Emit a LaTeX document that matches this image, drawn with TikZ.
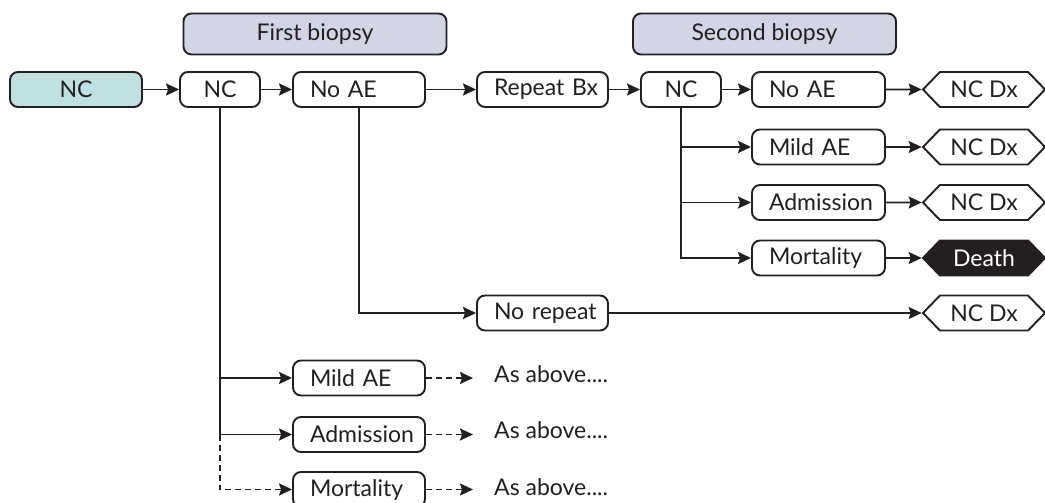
\documentclass[tikz,border=0pt]{standalone}
\usepackage{fontspec}
\setmainfont{Lato}
\usetikzlibrary{arrows.meta,shapes.symbols}
\definecolor{inkc}{HTML}{231F20}
\definecolor{tealfill}{HTML}{C1E0E1}
\definecolor{headfill}{HTML}{D3D4E4}
\begin{document}
\begin{tikzpicture}[x=1pt,y=-1pt,
  every node/.style={font=\fontsize{23}{26}\selectfont, text=inkc},
  box/.style={draw=inkc, line width=1.9pt, rounded corners=8pt, minimum height=35pt, inner sep=0pt},
  lbox/.style={box, text width=#1-34pt, minimum width=#1, align=left},
  cbox/.style={box, minimum width=#1, align=center},
  head/.style={box, fill=headfill, minimum height=41pt, minimum width=263pt},
  hexa/.style={draw=inkc, line width=1.9pt, shape=signal, signal to=west and east,
    signal pointer angle=92, minimum width=122pt, minimum height=35pt, inner sep=0pt},
  link/.style={draw=inkc, line width=1.9pt, -{Stealth[length=13pt,width=12pt,inset=2pt]}},
  dlink/.style={link, dash pattern=on 6pt off 4pt},
  note/.style={anchor=west, inner sep=0pt}]
\useasboundingbox (0,0) rectangle (1045,503);

% headers
\node[head] (h1) at (315,34) {First biopsy};
\node[head] (h2) at (764.5,34) {Second biopsy};

% first biopsy row
\node[cbox=132pt, fill=tealfill] (start) at (76,89.5) {NC};
\node[cbox=80pt] (nc1) at (220,89.5) {NC};
\node[lbox=132pt] (noae1) at (359,89.5) {No AE};
\node[lbox=131pt] (rep) at (542.5,89.5) {\mbox{Repeat Bx}};
\node[cbox=80pt] (nc2) at (681,89.5) {NC};

% second biopsy outcomes
\node[lbox=133pt] (noae2) at (818.5,89.5) {No AE};
\node[lbox=133pt] (mild2) at (818.5,147) {Mild AE};
\node[lbox=133pt] (adm2) at (818.5,202.5) {Admission};
\node[lbox=133pt] (mort2) at (818.5,258) {Mortality};
\node[hexa] (dx1) at (984,89.5) {NC Dx};
\node[hexa] (dx2) at (984,147) {NC Dx};
\node[hexa] (dx3) at (984,202.5) {NC Dx};
\node[hexa, fill=inkc, text=white] (death) at (984,258) {Death};

% no repeat biopsy
\node[lbox=131pt] (norep) at (542.5,313) {\mbox{No repeat}};
\node[hexa] (dx4) at (984,313) {NC Dx};

% first biopsy complications
\node[lbox=132pt] (mild1) at (359,378) {Mild AE};
\node[lbox=132pt] (adm1) at (359,434.5) {Admission};
\node[lbox=132pt] (mort1) at (359,489.5) {Mortality};
\node[note] (as1) at (494,374) {As above....};
\node[note] (as2) at (494,430) {As above....};
\node[note] (as3) at (494,487) {As above....};

% main row
\draw[link] (start) -- (nc1);
\draw[link] (nc1) -- (noae1);
\draw[link] (noae1) -- (rep);
\draw[link] (rep) -- (nc2);
\draw[link] (nc2) -- (noae2);
\draw[link] (noae2) -- (dx1);
\draw[link] (mild2) -- (dx2);
\draw[link] (adm2) -- (dx3);
\draw[link] (mort2) -- (death);
\draw[link] (norep) -- (dx4);

% branches
\draw[link] (nc2.south) |- (mild2.west);
\draw[link] (nc2.south) |- (adm2.west);
\draw[link] (nc2.south) |- (mort2.west);
\draw[link] (noae1.south) |- (norep.west);
\draw[link] (nc1.south) |- (mild1.west);
\draw[link] (nc1.south) |- (adm1.west);
\draw[dlink] (nc1.south |- adm1.west) |- (mort1.west);

% continuation
\draw[dlink] (mild1.east) -- ([xshift=-21pt]as1.west |- mild1.east);
\draw[dlink] (adm1.east) -- ([xshift=-21pt]as2.west |- adm1.east);
\draw[dlink] (mort1.east) -- ([xshift=-21pt]as3.west |- mort1.east);
\end{tikzpicture}
\end{document}
